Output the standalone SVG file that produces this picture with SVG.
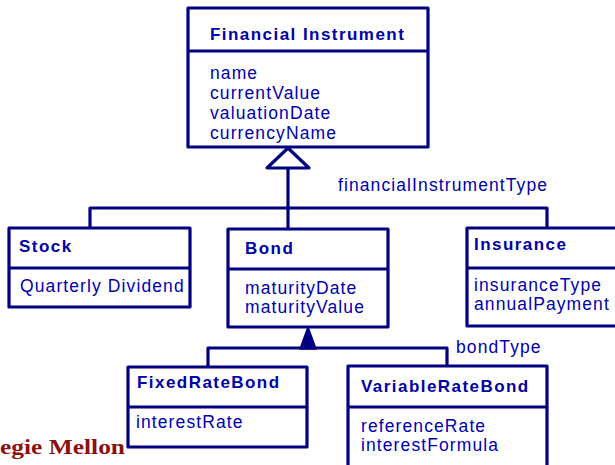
<svg xmlns="http://www.w3.org/2000/svg" width="615" height="465" viewBox="0 0 615 465">
<style>
.box{fill:#fff;stroke:#000080;stroke-width:3.2;stroke-linejoin:round}
.ln{fill:none;stroke:#000080;stroke-width:3.2;stroke-linejoin:round}
.t{font-family:"Liberation Sans",Arial,sans-serif;font-size:17px;font-weight:bold;fill:#0000a8;letter-spacing:1.45px}
.a{font-family:"Liberation Sans",Arial,sans-serif;font-size:17.5px;fill:#0000b0;letter-spacing:1.1px}
.cmu{font-family:"Liberation Serif","Times New Roman",serif;font-size:21px;font-weight:bold;fill:#8b1010}
</style>
<rect width="615" height="465" fill="#fff"/>
<g id="connectors">
<path class="ln" d="M288 168 V208 M90 228 V208 H547 V228 M288 208 V228"/>
<polygon class="ln" points="288,148 267,168 309,168" fill="#fff"/>
<path class="ln" d="M208 367 V348 H447 V366"/>
<polygon points="308,327 300,349 316,349" fill="#000080" stroke="#000080" stroke-width="1.5" stroke-linejoin="round"/>
<text class="a" x="338" y="191">financialInstrumentType</text>
<text class="a" x="456" y="353">bondType</text>
</g>
<g id="financial-instrument">
<rect class="box" x="188" y="8" width="240" height="139"/>
<line class="ln" x1="188" y1="51" x2="428" y2="51"/>
<text class="t" x="210" y="40">Financial Instrument</text>
<text class="a" x="210" y="79">name</text>
<text class="a" x="210" y="99">currentValue</text>
<text class="a" x="210" y="119">valuationDate</text>
<text class="a" x="210" y="139">currencyName</text>
</g>
<g id="stock">
<rect class="box" x="9" y="228" width="181" height="79"/>
<line class="ln" x1="9" y1="268" x2="190" y2="268"/>
<text class="t" x="19" y="252">Stock</text>
<text class="a" x="20" y="292">Quarterly Dividend</text>
</g>
<g id="bond">
<rect class="box" x="228" y="229" width="160" height="98"/>
<line class="ln" x1="228" y1="269" x2="388" y2="269"/>
<text class="t" x="245" y="254">Bond</text>
<text class="a" x="245" y="294">maturityDate</text>
<text class="a" x="245" y="313">maturityValue</text>
</g>
<g id="insurance">
<rect class="box" x="467" y="228" width="160" height="98"/>
<line class="ln" x1="467" y1="268" x2="627" y2="268"/>
<text class="t" x="474" y="250">Insurance</text>
<text class="a" x="474" y="291">insuranceType</text>
<text class="a" x="474" y="310">annualPayment</text>
</g>
<g id="fixed-rate-bond">
<rect class="box" x="128" y="367" width="179" height="80"/>
<line class="ln" x1="128" y1="407" x2="307" y2="407"/>
<text class="t" x="137" y="388">FixedRateBond</text>
<text class="a" x="136" y="428">interestRate</text>
</g>
<g id="variable-rate-bond">
<rect class="box" x="348" y="366" width="199" height="110"/>
<line class="ln" x1="348" y1="407" x2="547" y2="407"/>
<text class="t" x="361" y="392">VariableRateBond</text>
<text class="a" x="361" y="432">referenceRate</text>
<text class="a" x="361" y="451">interestFormula</text>
</g>
<text class="cmu" x="0" y="454" textLength="125" lengthAdjust="spacingAndGlyphs">egie Mellon</text>
</svg>
